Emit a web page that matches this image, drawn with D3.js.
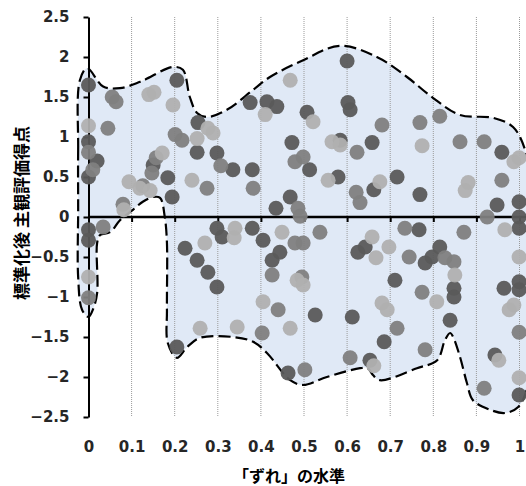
<!DOCTYPE html>
<html>
<head>
<meta charset="utf-8">
<script src="https://cdn.jsdelivr.net/npm/d3@7"></script>
<style>
  body { margin: 0; background: #fff; }
  svg { display: block; }
  .tick text { font-family: "DejaVu Sans", sans-serif; font-weight: bold; font-size: 15px; fill: #262626; }
</style>
</head>
<body>
<div id="chart"></div>
<script>
// tick values
const xTicks = [0, 0.1, 0.2, 0.3, 0.4, 0.5, 0.6, 0.7, 0.8, 0.9, 1];
const yTicks = [-2.5, -2, -1.5, -1, -0.5, 0, 0.5, 1, 1.5, 2, 2.5];

// points by shade, [ずれ, score]
const darkPoints = [
  [0.00, 1.65], [0.00, 0.94], [0.02, 0.70], [0.00, 0.50], [0.00, -0.16], [0.00, -0.29],
  [0.15, 0.65], [0.205, 1.71], [0.184, 0.49], [0.194, 0.25], [0.252, 0.81], [0.254, 1.18],
  [0.298, 0.80], [0.335, 0.59], [0.38, 0.59], [0.375, 1.43], [0.414, 1.44], [0.437, 1.38],
  [0.472, 0.93], [0.513, 0.59], [0.468, 0.25], [0.435, 0.11], [0.507, 1.31], [0.60, 1.95],
  [0.602, 1.43], [0.607, 1.34], [0.584, 0.96], [0.658, 0.93], [0.579, 0.50], [0.662, 0.34],
  [0.959, 0.81], [0.716, 0.50], [0.769, 0.28], [0.948, 0.15], [0.999, 0.19], [0.999, 0.00],
  [0.224, -0.39], [0.252, -0.54], [0.277, -0.69], [0.298, -0.875], [0.205, -1.625],
  [0.298, -0.14], [0.31, -0.25], [0.38, -0.14], [0.405, -0.29], [0.444, -0.44], [0.426, -0.54],
  [0.526, -1.225], [0.463, -1.95], [0.612, -1.25], [0.653, -1.79], [0.625, -0.44], [0.642, -0.375],
  [0.767, -0.16], [0.711, -0.79], [0.686, -1.56], [0.999, -0.14], [0.815, -0.375], [0.797, -0.50],
  [0.781, -0.575], [0.848, -0.89], [0.848, -1.00], [0.839, -1.29], [0.943, -1.725], [0.964, -0.89],
  [0.999, -0.81], [0.999, -0.91], [0.999, -2.225]
];

const midPoints = [
  [0.00, 0.81], [0.01, 0.59], [0.045, 1.11], [0.034, -0.125], [0.00, -1.01], [0.055, 1.50],
  [0.064, 1.44], [0.08, 0.16], [0.157, 0.74], [0.147, 0.55], [0.126, 0.39], [0.201, 1.03],
  [0.217, 0.96], [0.307, 0.64], [0.275, 0.36], [0.382, 0.36], [0.479, 0.69], [0.498, 0.75],
  [0.486, 0.11], [0.491, 0.01], [0.623, 0.81], [0.621, 0.31], [0.63, 0.18], [0.681, 1.15],
  [0.769, 1.18], [0.815, 1.26], [0.862, 0.94], [0.918, 0.94], [0.959, 0.46], [0.925, 0.00],
  [0.426, -0.725], [0.479, -0.325], [0.498, -0.325], [0.495, -0.75], [0.537, -0.19], [0.44, -1.16],
  [0.403, -1.45], [0.502, -1.91], [0.607, -1.76], [0.734, -0.14], [0.744, -0.50], [0.716, -1.39],
  [0.871, -0.19], [0.827, -0.51], [0.848, -0.56], [0.774, -0.94], [0.781, -1.66], [0.918, -2.14],
  [0.999, -1.44]
];

const lightPoints = [
  [0.00, 1.14], [0.00, -0.75], [0.082, 0.09], [0.094, 0.44], [0.14, 1.53], [0.152, 1.56],
  [0.171, 0.80], [0.119, 0.36], [0.143, 0.33], [0.196, 1.40], [0.252, 0.98], [0.277, 1.11],
  [0.289, 1.05], [0.24, 0.46], [0.41, 1.28], [0.468, 1.71], [0.521, 1.19], [0.565, 0.94],
  [0.584, 0.90], [0.556, 0.46], [0.676, 0.44], [0.774, 0.89], [0.987, 0.69], [0.999, 0.74],
  [0.881, 0.43], [0.874, 0.33], [0.27, -0.325], [0.259, -1.39], [0.34, -0.14], [0.338, -0.26],
  [0.345, -1.375], [0.449, -0.19], [0.484, -0.79], [0.498, -0.85], [0.405, -1.06], [0.468, -1.39],
  [0.662, -1.86], [0.658, -0.25], [0.667, -0.51], [0.697, -0.375], [0.681, -1.075], [0.693, -1.16],
  [0.966, -0.16], [0.85, -0.725], [0.808, -1.06], [0.952, -1.79], [0.999, -0.50], [0.987, -1.10],
  [0.976, -1.16], [0.999, -2.01]
];

// hand-drawn envelope around the points (clockwise from upper left)
const envelope = [
  [-0.024, 0.09], [-0.024, 0.84], [-0.02, 1.71], [-0.003, 1.86], [0.034, 1.63], [0.073, 1.61],
  [0.12, 1.69], [0.196, 1.875], [0.219, 1.84], [0.235, 1.5], [0.252, 1.3], [0.275, 1.25],
  [0.321, 1.34], [0.382, 1.59], [0.421, 1.75], [0.498, 1.96], [0.583, 2.14], [0.669, 2.0],
  [0.739, 1.75], [0.799, 1.49], [0.862, 1.275], [0.938, 1.24], [0.985, 1.125], [1.013, 0.84],
  [1.03, 0.3], [1.035, -0.5], [1.03, -1.5], [1.02, -2.1],
  [0.997, -2.375], [0.966, -2.45], [0.932, -2.41], [0.892, -2.29], [0.878, -2.075], [0.862, -1.75],
  [0.846, -1.5], [0.839, -1.45], [0.827, -1.54], [0.809, -1.79], [0.762, -1.89], [0.676, -2.04],
  [0.66, -1.975], [0.648, -1.89], [0.63, -1.89], [0.553, -2.0], [0.498, -2.1], [0.468, -2.04],
  [0.414, -1.7], [0.382, -1.56], [0.335, -1.5], [0.259, -1.51], [0.229, -1.625], [0.205, -1.76],
  [0.184, -1.575], [0.182, -1.16], [0.182, -0.325], [0.177, 0], [0.166, 0.24], [0.15, 0.25],
  [0.126, 0.19], [0.103, 0.09], [0.073, -0.04], [0.05, -0.19], [0.027, -0.225], [0.02, -0.325],
  [0.02, -0.95], [0.01, -1.16], [0.0, -1.25], [-0.015, -1.16], [-0.024, -0.75]
];

const width = 526, height = 486;

const svg = d3.select("#chart").append("svg")
  .attr("width", width)
  .attr("height", height);

const x = d3.scaleLinear().domain([0, 1]).range([88.5, 519.5]);
const y = d3.scaleLinear().domain([-2.5, 2.5]).range([417, 17]);

// envelope fill
const line = d3.line()
  .x(d => x(d[0]))
  .y(d => y(d[1]))
  .curve(d3.curveCatmullRomClosed.alpha(0.5));

svg.append("path")
  .attr("d", line(envelope))
  .attr("fill", "#e0e9f6")
  .attr("stroke", "none");

// vertical gridlines
svg.append("g")
  .selectAll("line")
  .data(xTicks.slice(1))
  .join("line")
  .attr("x1", d => x(d)).attr("x2", d => x(d))
  .attr("y1", y(2.5)).attr("y2", y(-2.5))
  .attr("stroke", "#9a9a9a")
  .attr("stroke-width", 1)
  .attr("stroke-dasharray", "1,1");

// envelope outline
svg.append("path")
  .attr("d", line(envelope))
  .attr("fill", "none")
  .attr("stroke", "#000")
  .attr("stroke-width", 2.2)
  .attr("stroke-dasharray", "12,5");

// x axis line through zero
const xAxisZero = svg.append("g")
  .attr("transform", `translate(0,${y(0)})`)
  .call(d3.axisBottom(x).tickValues(xTicks).tickSize(5).tickSizeOuter(0).tickFormat(""));
xAxisZero.select(".domain").remove();
xAxisZero.selectAll(".tick line").attr("stroke", "#000").attr("stroke-width", 2);
svg.append("line")
  .attr("x1", x(0)).attr("x2", width)
  .attr("y1", y(0)).attr("y2", y(0))
  .attr("stroke", "#000")
  .attr("stroke-width", 2.5);

// x tick labels at the bottom
const xLabels = svg.append("g")
  .attr("transform", `translate(0,${y(-2.5)})`)
  .call(d3.axisBottom(x).tickValues(xTicks).tickSize(0).tickPadding(24).tickFormat(d3.format("")));
xLabels.select(".domain").remove();

// y axis
const yAxis = svg.append("g")
  .attr("transform", `translate(${x(0)},0)`)
  .call(d3.axisLeft(y).tickValues(yTicks).tickSize(5).tickSizeOuter(0).tickPadding(14).tickFormat(d3.format("")));
yAxis.select(".domain").attr("stroke", "#000").attr("stroke-width", 2);
yAxis.selectAll(".tick line").attr("stroke", "#000").attr("stroke-width", 2);

// points
const series = [
  { data: darkPoints, color: "#5a5a5a" },
  { data: midPoints, color: "#808080" },
  { data: lightPoints, color: "#b0b0b0" }
];

series.forEach(s => {
  svg.append("g")
    .selectAll("circle")
    .data(s.data)
    .join("circle")
    .attr("cx", d => x(d[0]))
    .attr("cy", d => y(d[1]))
    .attr("r", 7.5)
    .attr("fill", s.color)
    .attr("fill-opacity", 0.95);
});

// axis titles
svg.append("text")
  .attr("transform", "translate(20,213) rotate(-90)")
  .attr("text-anchor", "middle")
  .attr("dominant-baseline", "central")
  .style("font-family", "'Noto Sans CJK JP', sans-serif")
  .style("font-weight", "bold")
  .style("font-size", "17px")
  .text("標準化後 主観評価得点");

svg.append("text")
  .attr("x", 289)
  .attr("y", 475)
  .attr("text-anchor", "middle")
  .attr("dominant-baseline", "central")
  .style("font-family", "'Noto Sans CJK JP', sans-serif")
  .style("font-weight", "bold")
  .style("font-size", "16px")
  .text("「ずれ」の水準");
</script>
</body>
</html>
